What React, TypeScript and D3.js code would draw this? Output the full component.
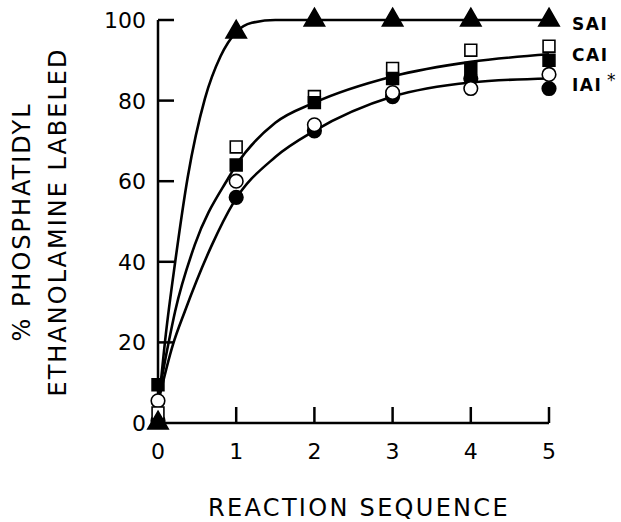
import React from 'react';
import * as d3 from 'd3';

// reaction sequence points
const steps = [0, 1, 2, 3, 4, 5];
const saiTriangle = [0, 97, 100, 100, 100, 100];
const caiOpenSquare = [2.5, 68.5, 81, 88, 92.5, 93.5];
const caiFilledSquare = [9.5, 64, 79.5, 85.5, 88, 90];
const iaiOpenCircle = [5.5, 60, 74, 82, 83, 86.5];
const iaiFilledCircle = [0.5, 56, 72.5, 81, 85.5, 83];

// hand-drawn fitted curves
const saiCurveX = [0, 0.1, 0.22, 0.38, 0.6, 0.8, 1, 1.2, 1.5, 2, 3, 4, 5];
const saiCurveY = [3, 22, 40, 61, 80.5, 91, 97, 99.3, 100, 100, 100, 100, 100];
const caiCurveX = [0, 0.13, 0.22, 0.47, 0.9, 1, 1.5, 2, 3, 4, 5];
const caiCurveY = [6, 19.4, 27.8, 44.2, 60.8, 64, 74.5, 79.5, 86, 89.6, 91.5];
const iaiCurveX = [0, 0.19, 0.345, 0.69, 0.96, 1.5, 2, 3, 4, 5];
const iaiCurveY = [5, 19.4, 27.8, 44.2, 54.5, 66, 72.5, 81, 84.5, 85.5];

const yTicks = [0, 20, 40, 60, 80, 100];
const seriesLabels = ['SAI', 'CAI', 'IAI'];

const W = 621;
const H = 522;
const font = '"DejaVu Sans", sans-serif';

export default function App() {
  const x = d3.scaleLinear().domain([0, 5]).range([158, 549]);
  const y = d3.scaleLinear().domain([0, 100]).range([423, 20]);

  const line = d3
    .line<[number, number]>()
    .x(d => x(d[0]))
    .y(d => y(d[1]))
    .curve(d3.curveMonotoneX);

  const zip = (a: number[], b: number[]) => a.map((v, i) => [v, b[i]] as [number, number]);

  const tri = d3.symbol().type(d3.symbolTriangle).size(180)();
  const sq = d3.symbol().type(d3.symbolSquare).size(140)();
  const circ = d3.symbol().type(d3.symbolCircle).size(145)();

  const markers = (vals: number[], path: string | null, filled: boolean, key: string) =>
    steps.map((s, i) => (
      <path
        key={key + i}
        d={path || ''}
        transform={`translate(${x(s)},${y(vals[i])})`}
        fill={filled ? '#000' : '#fff'}
        stroke="#000"
        strokeWidth={1.6}
      />
    ));

  const labelY = [24, 55, 85];

  return (
    <svg width={W} height={H} style={{ position: 'absolute', left: 0, top: 0, background: '#fff' }}>
      {/* axes */}
      <g stroke="#000" strokeWidth={2.5} fill="none">
        <line x1={x(0)} x2={x(5)} y1={y(0)} y2={y(0)} />
        <line x1={x(0)} x2={x(0)} y1={y(0)} y2={y(100)} />
        {yTicks.slice(1).map(t => (
          <line key={'yt' + t} x1={x(0)} x2={x(0) + 16} y1={y(t)} y2={y(t)} />
        ))}
        {steps.slice(1).map(s => (
          <line key={'xt' + s} x1={x(s)} x2={x(s)} y1={y(0)} y2={y(0) - 16} />
        ))}
      </g>
      <g fontFamily={font} fontSize={22} fill="#000">
        {yTicks.map(t => (
          <text key={'yl' + t} x={x(0) - 12} y={y(t)} dy="0.36em" textAnchor="end">
            {t}
          </text>
        ))}
        {steps.map(s => (
          <text key={'xl' + s} x={x(s)} y={y(0) + 36} textAnchor="middle">
            {s}
          </text>
        ))}
      </g>

      {/* fitted curves */}
      <g stroke="#000" strokeWidth={2.6} fill="none">
        <path d={line(zip(saiCurveX, saiCurveY)) || ''} />
        <path d={line(zip(caiCurveX, caiCurveY)) || ''} />
        <path d={line(zip(iaiCurveX, iaiCurveY)) || ''} />
      </g>

      {/* data points */}
      {markers(iaiFilledCircle, circ, true, 'ifc')}
      {markers(iaiOpenCircle, circ, false, 'ioc')}
      {markers(caiOpenSquare, sq, false, 'cos')}
      {markers(caiFilledSquare, sq, true, 'cfs')}
      {markers(saiTriangle, tri, true, 'st')}

      {/* series labels */}
      <g fontFamily={font} fontSize={17} fontWeight="bold" fill="#000" letterSpacing={1.5}>
        {seriesLabels.map((l, i) => (
          <text key={l} x={572} y={labelY[i]} dy="0.36em">
            {l}
          </text>
        ))}
      </g>
      <text x={607} y={86} fontFamily={font} fontSize={17} fill="#000">*</text>

      {/* axis titles */}
      <text x={359} y={516} fontFamily={font} fontSize={24} letterSpacing={2.3} textAnchor="middle">
        REACTION SEQUENCE
      </text>
      <g fontFamily={font} fontSize={24} letterSpacing={2} textAnchor="middle" transform="translate(0,222) rotate(-90)">
        <text x={0} y={30}>% PHOSPHATIDYL</text>
        <text x={0} y={66}>ETHANOLAMINE LABELED</text>
      </g>
    </svg>
  );
}
